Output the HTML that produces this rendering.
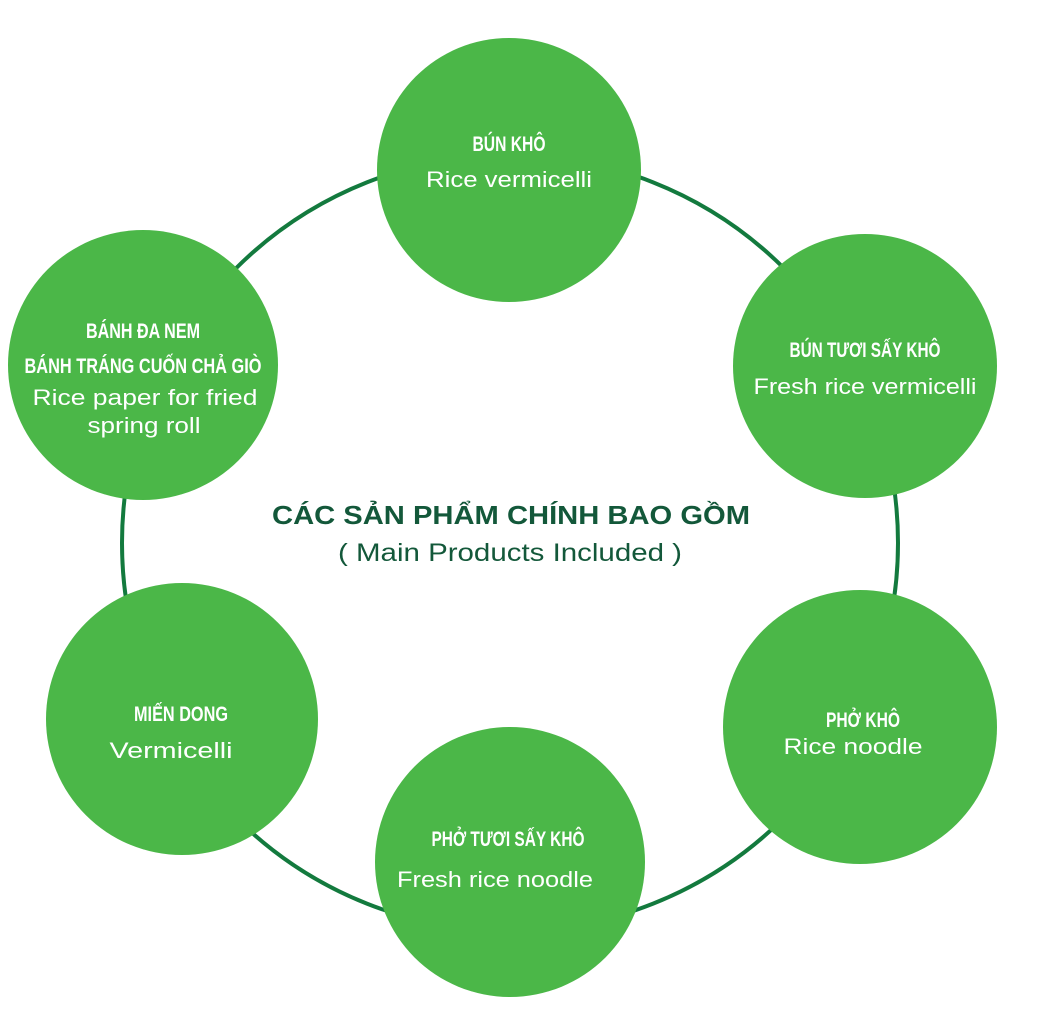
<!DOCTYPE html>
<html><head><meta charset="utf-8"><style>
html,body{margin:0;padding:0;background:#fff;}
svg{display:block}
.h{font-family:"Liberation Sans",sans-serif;font-weight:bold;fill:#fff;font-size:21px;text-anchor:middle}
.t{font-family:"Liberation Sans",sans-serif;fill:#fff;font-size:22px;text-anchor:middle}
</style></head><body>
<svg width="1046" height="1011" viewBox="0 0 1046 1011">
<circle cx="510" cy="543" r="388" fill="none" stroke="#137a3e" stroke-width="4"/>
<g fill="#4bb748">
<circle cx="509" cy="170" r="132"/>
<circle cx="865" cy="366" r="132"/>
<circle cx="860" cy="727" r="137"/>
<circle cx="510" cy="862" r="135"/>
<circle cx="182" cy="719" r="136"/>
<circle cx="143" cy="365" r="135"/>
</g>
<text class="h" x="509" y="151" textLength="73" lengthAdjust="spacingAndGlyphs">BÚN KHÔ</text>
<text class="t" x="509" y="187" textLength="166" lengthAdjust="spacingAndGlyphs">Rice vermicelli</text>
<text class="h" x="865" y="357" textLength="151" lengthAdjust="spacingAndGlyphs">BÚN TƯƠI SẤY KHÔ</text>
<text class="t" x="865" y="394" textLength="223" lengthAdjust="spacingAndGlyphs">Fresh rice vermicelli</text>
<text class="h" x="863" y="727" textLength="74" lengthAdjust="spacingAndGlyphs">PHỞ KHÔ</text>
<text class="t" x="853" y="754" textLength="139" lengthAdjust="spacingAndGlyphs">Rice noodle</text>
<text class="h" x="508" y="846" textLength="153" lengthAdjust="spacingAndGlyphs">PHỞ TƯƠI SẤY KHÔ</text>
<text class="t" x="495" y="887" textLength="196" lengthAdjust="spacingAndGlyphs">Fresh rice noodle</text>
<text class="h" x="181" y="721" textLength="94" lengthAdjust="spacingAndGlyphs">MIẾN DONG</text>
<text class="t" x="171" y="758" textLength="123" lengthAdjust="spacingAndGlyphs">Vermicelli</text>
<text class="h" x="143" y="338" textLength="114" lengthAdjust="spacingAndGlyphs">BÁNH ĐA NEM</text>
<text class="h" x="143" y="373" textLength="237" lengthAdjust="spacingAndGlyphs">BÁNH TRÁNG CUỐN CHẢ GIÒ</text>
<text class="t" x="145" y="405" textLength="225" lengthAdjust="spacingAndGlyphs">Rice paper for fried</text>
<text class="t" x="144" y="433" textLength="113" lengthAdjust="spacingAndGlyphs">spring roll</text>
<text x="511" y="524" text-anchor="middle" font-family="Liberation Sans,sans-serif" font-weight="bold" font-size="26" fill="#13583a" textLength="478" lengthAdjust="spacingAndGlyphs">CÁC SẢN PHẨM CHÍNH BAO GỒM</text>
<text x="510" y="561" text-anchor="middle" font-family="Liberation Sans,sans-serif" font-size="25" fill="#13583a" textLength="344" lengthAdjust="spacingAndGlyphs">( Main Products Included )</text>
</svg>
</body></html>
